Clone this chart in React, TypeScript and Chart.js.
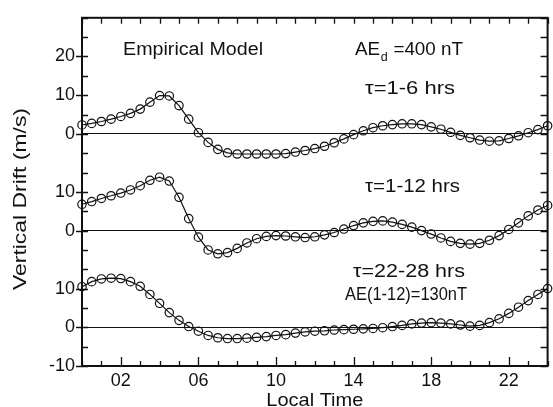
import React, { useEffect, useRef } from 'react';
import { Chart, registerables } from 'chart.js';

Chart.register(...registerables);

// Local time (hours) of each sample
const HOURS = [
  0, 0.5, 1, 1.5, 2, 2.5, 3, 3.5, 4, 4.5, 5, 5.5, 6, 6.5, 7, 7.5, 8, 8.5, 9, 9.5,
  10, 10.5, 11, 11.5, 12, 12.5, 13, 13.5, 14, 14.5, 15, 15.5, 16, 16.5, 17, 17.5,
  18, 18.5, 19, 19.5, 20, 20.5, 21, 21.5, 22, 22.5, 23, 23.5, 24,
];

// Vertical drift (m/s), tau = 1-6 hrs (top panel)
const DRIFT_TAU_1_6 = [
  2.3, 2.7, 3.2, 3.8, 4.5, 5.3, 6.4, 8.2, 9.9, 9.8, 7.3, 3.8, 0.3, -2.2, -4.0,
  -4.9, -5.2, -5.2, -5.2, -5.2, -5.2, -5.1, -4.7, -4.3, -3.8, -3.2, -2.3, -1.3,
  -0.2, 0.8, 1.6, 2.1, 2.4, 2.6, 2.6, 2.4, 1.8, 1.2, 0.4, -0.4, -1.0, -1.6, -1.9,
  -1.8, -1.2, -0.5, 0.3, 1.1, 2.1,
];

// Vertical drift (m/s), tau = 1-12 hrs (middle panel)
const DRIFT_TAU_1_12 = [
  6.8, 7.5, 8.3, 9.0, 9.7, 10.5, 11.6, 13.0, 13.8, 12.8, 8.6, 3.1, -1.7, -5.0,
  -6.0, -5.7, -4.6, -3.2, -2.1, -1.5, -1.3, -1.4, -1.6, -1.8, -1.6, -1.1, -0.5,
  0.4, 1.3, 2.0, 2.4, 2.5, 2.2, 1.6, 0.9, 0.0, -0.9, -1.9, -2.8, -3.3, -3.5, -3.3,
  -2.5, -1.3, 0.3, 2.0, 3.8, 5.3, 6.5,
];

// Vertical drift (m/s), tau = 22-28 hrs (bottom panel)
const DRIFT_TAU_22_28 = [
  10.5, 11.8, 12.5, 12.7, 12.6, 11.8, 10.6, 8.5, 6.2, 3.8, 1.8, 0.2, -1.0, -2.1,
  -2.7, -2.9, -2.9, -2.8, -2.6, -2.4, -2.1, -1.9, -1.5, -1.2, -1.0, -0.9, -0.7,
  -0.6, -0.5, -0.4, -0.3, -0.1, 0.2, 0.5, 0.9, 1.1, 1.2, 1.1, 0.9, 0.6, 0.3, 0.5,
  1.2, 2.2, 3.6, 5.2, 6.9, 8.5, 10.0,
];

// Each panel is stacked on a common axis with this vertical offset
const PANEL_OFFSETS = [50, 25, 0];

const X_LABEL_HOURS = [2, 6, 10, 14, 18, 22];
const X_LABELS = ['02', '06', '10', '14', '18', '22'];
const Y_TICK_VALUES = [-10, 0, 10, 25, 35, 50, 60, 70];
const Y_TICK_LABELS = ['-10', '0', '10', '0', '10', '0', '10', '20'];

const FONT = '"Liberation Sans", Arial, Helvetica, sans-serif';
const INK = '#111';

// draw text centred at cx, stretched/compressed horizontally to a given width
function fitText(ctx: CanvasRenderingContext2D, text: string, cx: number, y: number, width: number) {
  const w = ctx.measureText(text).width;
  ctx.save();
  ctx.translate(cx, y);
  ctx.scale(width / w, 1);
  ctx.textAlign = 'center';
  ctx.fillText(text, 0, 0);
  ctx.restore();
}

const decorPlugin = {
  id: 'decor',
  afterDatasetsDraw(chart: any) {
    const { ctx, chartArea: a, scales } = chart;
    const x = scales.x;
    const y = scales.y;
    ctx.save();
    ctx.strokeStyle = INK;
    ctx.fillStyle = INK;

    // tick marks, inside the frame
    ctx.lineWidth = 1.3;
    ctx.beginPath();
    y.ticks.forEach((t: any) => {
      const p = Math.round(y.getPixelForValue(t.value)) + 0.5;
      const labelled = Y_TICK_VALUES.includes(t.value);
      ctx.moveTo(a.left - (labelled ? 6 : 0), p);
      ctx.lineTo(a.left + 6, p);
      ctx.moveTo(a.right, p);
      ctx.lineTo(a.right - 7, p);
    });
    x.ticks.forEach((t: any) => {
      const p = Math.round(x.getPixelForValue(t.value)) + 0.5;
      const labelled = X_LABEL_HOURS.includes(t.value);
      ctx.moveTo(p, a.bottom);
      ctx.lineTo(p, a.bottom - (labelled ? 9 : 5));
      ctx.moveTo(p, a.top);
      ctx.lineTo(p, a.top + 6);
    });
    ctx.stroke();

    // frame
    ctx.lineWidth = 2;
    ctx.strokeRect(a.left, a.top, a.right - a.left, a.bottom - a.top);

    // annotations
    ctx.textBaseline = 'alphabetic';
    ctx.font = `18px ${FONT}`;
    fitText(ctx, 'Empirical Model', 193, 55, 140);
    fitText(ctx, '\u03c4=1-6 hrs', 410, 94, 90);
    fitText(ctx, '\u03c4=1-12 hrs', 412.5, 192, 95);
    fitText(ctx, '\u03c4=22-28 hrs', 409, 277, 112);
    fitText(ctx, 'AE(1-12)=130nT', 406, 300, 122);

    // AE_d =400 nT with subscript
    const big = `18px ${FONT}`;
    const small = `12px ${FONT}`;
    ctx.font = big;
    const w1 = ctx.measureText('AE').width;
    const w3 = ctx.measureText(' =400 nT').width;
    ctx.font = small;
    const w2 = ctx.measureText('d').width + 1;
    const total = w1 + w2 + w3;
    const k = 108 / total;
    ctx.save();
    ctx.translate(409 - 54, 55);
    ctx.scale(k, 1);
    ctx.textAlign = 'left';
    ctx.font = big;
    ctx.fillText('AE', 0, 0);
    ctx.font = small;
    ctx.fillText('d', w1 + 0.5, 6);
    ctx.font = big;
    ctx.fillText(' =400 nT', w1 + w2, 0);
    ctx.restore();

    // axis titles
    ctx.font = `19px ${FONT}`;
    fitText(ctx, 'Local Time', (a.left + a.right) / 2, 406, 97);
    ctx.save();
    ctx.translate(26, 199);
    ctx.rotate(-Math.PI / 2);
    fitText(ctx, 'Vertical Drift (m/s)', 0, 0, 182);
    ctx.restore();

    ctx.restore();
  },
};

function series(values: number[], offset: number) {
  return values.map((v, i) => ({ x: HOURS[i], y: v + offset }));
}

export default function App() {
  const ref = useRef<HTMLCanvasElement | null>(null);

  useEffect(() => {
    if (!ref.current) return;
    const panels = [DRIFT_TAU_1_6, DRIFT_TAU_1_12, DRIFT_TAU_22_28];
    const chart = new Chart(ref.current, {
      type: 'line',
      data: {
        datasets: panels.map((vals, k) => ({
          data: series(vals, PANEL_OFFSETS[k]),
          borderColor: INK,
          borderWidth: 1.2,
          pointRadius: 4.2,
          pointBorderWidth: 1.2,
          pointBorderColor: INK,
          pointBackgroundColor: 'rgba(0,0,0,0)',
          tension: 0,
          clip: false as any,
        })),
      },
      options: {
        animation: false,
        responsive: false,
        events: [],
        layout: { padding: { top: 15, right: 1, left: 0, bottom: 0 } },
        plugins: { legend: { display: false }, tooltip: { enabled: false } },
        scales: {
          x: {
            type: 'linear',
            min: 0,
            max: 24,
            afterFit: (s: any) => { s.height = 41; },
            border: { display: false },
            grid: { display: false, drawTicks: false },
            ticks: {
              stepSize: 1,
              autoSkip: false,
              maxRotation: 0,
              padding: 4,
              color: INK,
              font: { family: FONT, size: 18 },
              callback: (v: any) => {
                const i = X_LABEL_HOURS.indexOf(Number(v));
                return i >= 0 ? X_LABELS[i] : '';
              },
            },
          },
          y: {
            type: 'linear',
            min: -10,
            max: 80,
            afterFit: (s: any) => { s.width = 82; },
            border: { display: false },
            grid: {
              drawTicks: false,
              lineWidth: 1,
              color: (c: any) =>
                PANEL_OFFSETS.includes(c.tick?.value) ? INK : 'rgba(0,0,0,0)',
            },
            ticks: {
              stepSize: 5,
              autoSkip: false,
              padding: 7,
              color: INK,
              font: { family: FONT, size: 18 },
              callback: (v: any) => {
                const i = Y_TICK_VALUES.indexOf(Number(v));
                return i >= 0 ? Y_TICK_LABELS[i] : '';
              },
            },
          },
        },
      },
      plugins: [decorPlugin],
    });
    return () => chart.destroy();
  }, []);

  return (
    <div style={{ position: 'fixed', left: 0, top: 0, width: 553, height: 407, background: '#fff' }}>
      <canvas ref={ref} width={553} height={407} style={{ display: 'block' }} />
    </div>
  );
}
